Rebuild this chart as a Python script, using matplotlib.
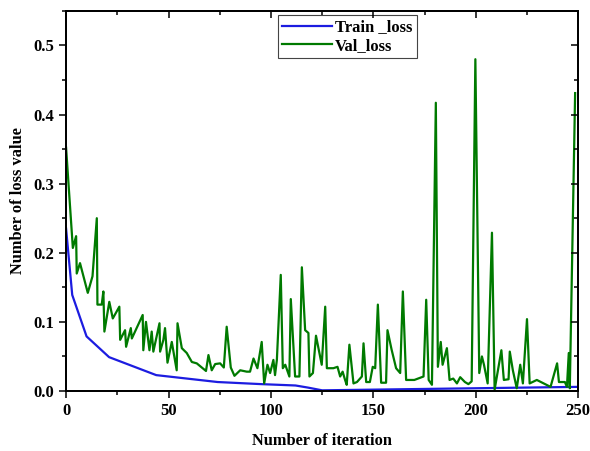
import matplotlib
matplotlib.use("Agg")
import matplotlib.pyplot as plt
from matplotlib.ticker import MultipleLocator

plt.rcParams.update({
    "font.family": "serif",
    "font.serif": ["Liberation Serif", "DejaVu Serif"],
    "font.weight": "bold",
    "axes.linewidth": 1.2,
})

C_TRAIN = "#1c1ce0"
C_VAL = "#007a00"

# Train loss (iteration, value)
train_iter = [0, 3, 10, 21, 44, 74, 95, 112, 118, 125, 150, 200, 250]
train_loss = [0.235, 0.139, 0.079, 0.049, 0.023, 0.013, 0.010, 0.008, 0.005,
              0.001, 0.002, 0.004, 0.006]

# Validation loss (iteration, value)
val_iter = [0, 3.3, 4.9, 5.2, 6.8, 10.6, 12.9, 15, 15.3, 17.4, 18.2, 18.7, 21.1,
            22.8, 26, 26.4, 28.8, 29.3, 31.6, 32.1, 37.4, 37.7, 39, 40.7, 41.8,
            42.6, 45.6, 45.9, 47.5, 48.3, 49.5, 51.6, 54, 54.4, 56.5, 58.9,
            61.4, 63.8, 68.3, 69.5, 71.1, 72.8, 75.2, 77, 78.4, 80.4, 82.2, 85,
            88.2, 89.8, 91.5, 93.4, 95.5, 96.7, 98.3, 99.6, 101.2, 102, 102.9,
            104.8, 105.8, 107, 109, 109.7, 111.8, 113.9, 115.1, 116.7, 118.3,
            118.8, 120.5, 122, 124.8, 126.5, 127.3, 130.5, 132.5, 133.8, 135,
            136.2, 137, 138.3, 140.3, 142, 144.4, 145.2, 146.5, 148.3, 149.7,
            150.9, 152.2, 153.8, 156.2, 156.9, 158.9, 161.1, 163.1, 164.4, 166,
            170, 174.5, 175.8, 177, 178.6, 180.5, 181.5, 182.9, 183.8, 185.9,
            187.2, 189, 190.8, 192.4, 194.7, 196.4, 198, 199.8, 201.7, 203, 204,
            205.8, 207.9, 209.2, 210.6, 212.5, 213.7, 216, 216.6, 218.1, 220,
            221.7, 223, 225, 226.3, 229.8, 236.5, 239.7, 240.6, 243.5, 244.5,
            245.4, 245.9, 248.5]
val_loss = [0.352, 0.207, 0.224, 0.170, 0.185, 0.142, 0.166, 0.250, 0.125, 0.125,
            0.144, 0.086, 0.129, 0.105, 0.122, 0.074, 0.088, 0.064, 0.091, 0.076,
            0.110, 0.059, 0.100, 0.059, 0.086, 0.057, 0.098, 0.057, 0.074, 0.091,
            0.041, 0.071, 0.030, 0.098, 0.062, 0.055, 0.042, 0.040, 0.029, 0.052,
            0.030, 0.039, 0.040, 0.034, 0.093, 0.034, 0.022, 0.030, 0.028, 0.028,
            0.047, 0.033, 0.071, 0.011, 0.038, 0.026, 0.045, 0.023, 0.045, 0.168,
            0.033, 0.038, 0.021, 0.133, 0.021, 0.021, 0.179, 0.088, 0.084, 0.021,
            0.026, 0.080, 0.038, 0.122, 0.033, 0.033, 0.035, 0.021, 0.028, 0.016,
            0.009, 0.067, 0.011, 0.013, 0.021, 0.069, 0.013, 0.013, 0.035, 0.033,
            0.125, 0.012, 0.012, 0.088, 0.060, 0.033, 0.026, 0.144, 0.016, 0.016,
            0.021, 0.132, 0.016, 0.009, 0.417, 0.035, 0.071, 0.038, 0.062, 0.016,
            0.018, 0.011, 0.020, 0.013, 0.010, 0.014, 0.480, 0.026, 0.050, 0.038,
            0.011, 0.229, 0.002, 0.026, 0.059, 0.016, 0.017, 0.057, 0.030, 0.004,
            0.038, 0.011, 0.104, 0.011, 0.016, 0.006, 0.040, 0.013, 0.013, 0.006,
            0.055, 0.004, 0.431]

fig = plt.figure(figsize=(5.9, 4.51), dpi=100)
ax = fig.add_axes([0.112, 0.133, 0.868, 0.843])

ax.plot(train_iter, train_loss, color=C_TRAIN, lw=1.6, label="Train _loss")
ax.plot(val_iter, val_loss, color=C_VAL, lw=1.6, label="Val_loss")

ax.set_xlim(0, 250)
ax.set_ylim(0, 0.55)
ax.xaxis.set_major_locator(MultipleLocator(50))
ax.xaxis.set_minor_locator(MultipleLocator(25))
ax.yaxis.set_major_locator(MultipleLocator(0.1))
ax.yaxis.set_minor_locator(MultipleLocator(0.05))
ax.yaxis.set_major_formatter(plt.FuncFormatter(lambda v, p: f"{v:.1f}"))

# bottom / left ticks point outward
ax.tick_params(which="both", direction="out", labelsize=12, width=1.1)
ax.tick_params(which="major", length=5)
ax.tick_params(which="minor", length=3)

# top / right ticks point inward
ax2 = ax.twinx()
ax2.set_ylim(ax.get_ylim())
ax2.yaxis.set_major_locator(MultipleLocator(0.1))
ax2.yaxis.set_minor_locator(MultipleLocator(0.05))
ax2.tick_params(which="both", direction="in", labelright=False, width=1.1)
ax2.tick_params(which="major", length=5)
ax2.tick_params(which="minor", length=3)
ax3 = ax.twiny()
ax3.set_xlim(ax.get_xlim())
ax3.xaxis.set_major_locator(MultipleLocator(50))
ax3.xaxis.set_minor_locator(MultipleLocator(25))
ax3.tick_params(which="both", direction="in", labeltop=False, width=1.1)
ax3.tick_params(which="major", length=5)
ax3.tick_params(which="minor", length=3)

ax.set_xlabel("Number of iteration", fontsize=11.8, fontweight="bold", labelpad=10)
ax.set_ylabel("Number of loss value", fontsize=11.8, fontweight="bold", labelpad=5)

leg = ax.legend(loc="upper center", bbox_to_anchor=(0.549, 1.01), fontsize=12,
                frameon=True, fancybox=False, edgecolor="#444444",
                handlelength=3.0, handletextpad=0.2, borderpad=0.25,
                labelspacing=0.15, framealpha=1)
leg.get_frame().set_linewidth(0.8)
for t in leg.get_texts():
    t.set_fontweight("bold")

fig.savefig("out.png", dpi=100)
